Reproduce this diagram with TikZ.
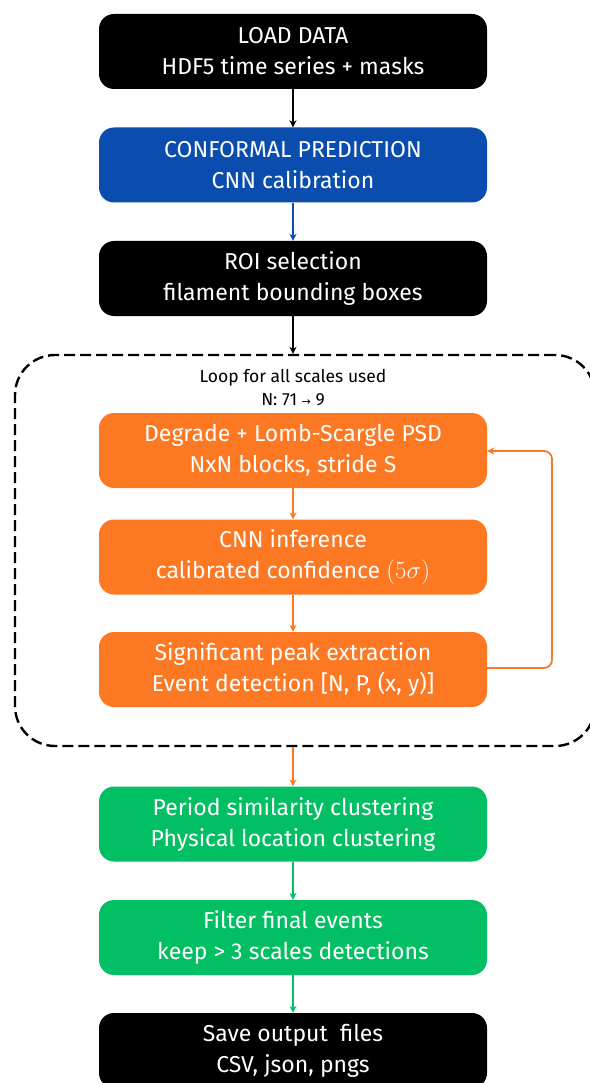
\documentclass[tikz,border=0pt]{standalone}
\usepackage{fontspec}
\setmainfont{Fira Sans}
\newfontfamily\djv{DejaVu Sans}
\usetikzlibrary{arrows.meta}
\definecolor{cblue}{HTML}{0A4DAE}
\definecolor{corange}{HTML}{FD7822}
\definecolor{cgreen}{HTML}{02BF63}
\begin{document}
\begin{tikzpicture}[x=1pt,y=1pt,
  box/.style={rounded corners=15pt, minimum width=388pt, minimum height=75pt,
    text=white, align=center, font=\fontsize{23}{31}\selectfont, inner sep=0pt},
  blk/.style={box, fill=black},
  blu/.style={box, fill=cblue},
  org/.style={box, fill=corange},
  grn/.style={box, fill=cgreen},
  conn/.style={line width=1.8pt, -{Stealth[length=7pt,width=7pt]}}]
\useasboundingbox (0,0) rectangle (589,-1083);
\node[blk] (b1) at (293,-51.5) {LOAD DATA\\HDF5 time series + masks};
\node[blu] (b2) at (293,-165) {CONFORMAL PREDICTION\\CNN calibration};
\node[blk] (b3) at (293,-278.5) {ROI selection\\filament bounding boxes};
\node[draw, dash pattern=on 11pt off 5pt, line width=2.4pt, rounded corners=40pt,
  minimum width=580pt, minimum height=391pt, inner sep=0pt] (loop) at (305,-550.5) {};
\node[align=center, font=\fontsize{17.5}{23}\selectfont] (lbl) at (293,-388) {Loop for all scales used\\N: 71 {\djv\fontsize{11}{12}\selectfont →} 9};
\node[org] (o1) at (293,-450.5) {Degrade + Lomb-Scargle PSD\\NxN blocks, stride S};
\node[org] (o2) at (293,-557) {CNN inference\\calibrated confidence $(5\sigma)$};
\node[org] (o3) at (293,-669.5) {Significant peak extraction\\Event detection [N, P, (x, y)]};
\node[grn] (g1) at (293,-824) {Period similarity clustering\\Physical location clustering};
\node[grn] (g2) at (293,-937.5) {Filter final events\\keep > 3 scales detections};
\node[blk] (b4) at (293,-1050.5) {Save output\ \ files\\CSV, json, pngs};
\draw[conn, black] (b1) -- (b2);
\draw[conn, cblue] (b2) -- (b3);
\draw[conn, black] (b3.south) -- (b3.south |- loop.north);
\draw[conn, corange] (o1) -- (o2);
\draw[conn, corange] (o2) -- (o3);
\coordinate (r1) at (552,-668);
\coordinate (r2) at (552,-451);
\draw[conn, corange, rounded corners=8pt] (o3.east |- r1) -- (r1) -- (r2) -- (o1.east |- r2);
\draw[conn, corange] (g1.north |- loop.south) -- (g1.north);
\draw[conn, cgreen] (g1) -- (g2);
\draw[conn, cgreen] (g2) -- (b4);
\end{tikzpicture}
\end{document}
